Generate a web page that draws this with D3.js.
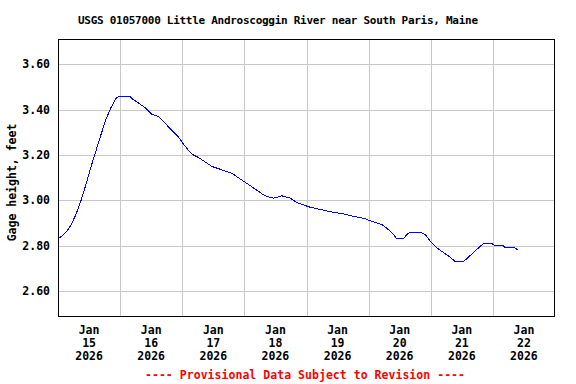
<!DOCTYPE html>
<html>
<head>
<meta charset="utf-8">
<script src="https://cdn.jsdelivr.net/npm/d3@7"></script>
<style>
  body { margin: 0; background: #fff; }
  text { font-family: "DejaVu Sans Mono", monospace; font-weight: bold; }
</style>
</head>
<body>
<div id="chart"></div>
<script>
// hours after Jan 15 2026 00:00 and gage height (ft)
const hours = [0, 1.2, 3.1, 5, 7, 8.9, 10.8, 12.8, 14.7, 16.6, 18.6, 20.5, 22.4, 23.7, 27.8,
  28.5, 31, 33.6, 36.2, 38.8, 41.4, 43.9, 46.5, 48.4, 50.4, 52.3, 54.2, 56.8, 59.4, 62,
  64.5, 67.1, 69.7, 72.3, 74.9, 77.4, 80, 83.2, 86.5, 89.7, 92.3, 94.8, 97.4, 101.3, 105.1,
  110.3, 114.1, 118.6, 120.6, 123.2, 125.7, 127.7, 129.6, 130.9, 133.5, 134.8, 136, 139.9,
  141.8, 143.8, 146.4, 148.9, 151.5, 153.4, 156.6, 158.6, 160.5, 162.4, 164.4, 167.6, 168.9,
  172.1, 172.8, 176.6, 177.9];
const gage = [2.83, 2.84, 2.86, 2.89, 2.94, 3.00, 3.07, 3.15, 3.22, 3.29, 3.36, 3.41, 3.45, 3.46, 3.46,
  3.45, 3.43, 3.41, 3.38, 3.37, 3.34, 3.31, 3.28, 3.25, 3.22, 3.20, 3.19, 3.17, 3.15, 3.14,
  3.13, 3.12, 3.10, 3.08, 3.06, 3.04, 3.02, 3.01, 3.02, 3.01, 2.99, 2.98, 2.97, 2.96, 2.95,
  2.94, 2.93, 2.92, 2.91, 2.90, 2.89, 2.87, 2.85, 2.83, 2.83, 2.85, 2.86, 2.86,
  2.85, 2.82, 2.79, 2.77, 2.75, 2.73, 2.73, 2.75, 2.77, 2.79, 2.81, 2.81, 2.80,
  2.80, 2.79, 2.79, 2.78];
const days = [15, 16, 17, 18, 19, 20, 21, 22];
const yTicks = [2.60, 2.80, 3.00, 3.20, 3.40, 3.60];

const width = 576, height = 384;
const margin = {top: 39, right: 21, bottom: 68, left: 58};

const start = new Date(2026, 0, 15);
const data = hours.map((h, i) => ({t: new Date(+start + h * 3600e3), v: gage[i]}));

const svg = d3.select("#chart").append("svg")
    .attr("width", width)
    .attr("height", height);

const x = d3.scaleTime()
    .domain([start, new Date(2026, 0, 23)])
    .range([margin.left, width - margin.right]);

const y = d3.scaleLinear()
    .domain([2.49, 3.712])
    .range([height - margin.bottom, margin.top]);

// grid
svg.append("g")
    .selectAll("line")
    .data(days.slice(1))
    .join("line")
    .attr("x1", d => Math.round(x(new Date(2026, 0, d))) + 0.5)
    .attr("x2", d => Math.round(x(new Date(2026, 0, d))) + 0.5)
    .attr("y1", margin.top)
    .attr("y2", height - margin.bottom)
    .attr("stroke", "#c8c8c8");

svg.append("g")
    .selectAll("line")
    .data(yTicks)
    .join("line")
    .attr("x1", margin.left)
    .attr("x2", width - margin.right)
    .attr("y1", d => Math.round(y(d)) + 0.5)
    .attr("y2", d => Math.round(y(d)) + 0.5)
    .attr("stroke", "#c8c8c8");

// y labels
svg.append("g")
    .selectAll("text")
    .data(yTicks)
    .join("text")
    .attr("x", 50)
    .attr("y", d => y(d) + 4)
    .attr("text-anchor", "end")
    .attr("font-size", 11.5)
    .text(d4 => d3.format(".2f")(d4));

// x labels, centered on each day
const xl = svg.append("g")
    .selectAll("text")
    .data(days)
    .join("text")
    .attr("text-anchor", "middle")
    .attr("font-size", 11.5)
    .attr("transform", d => `translate(${x(new Date(2026, 0, d, 12))},0)`);
xl.append("tspan").attr("x", 0).attr("y", 334).text("Jan");
xl.append("tspan").attr("x", 0).attr("y", 347).text(d => d);
xl.append("tspan").attr("x", 0).attr("y", 360).text("2026");

// data line
svg.append("path")
    .datum(data)
    .attr("fill", "none")
    .attr("stroke", "#0000ff")
    .attr("stroke-width", 1)
    .attr("shape-rendering", "crispEdges")
    .attr("d", d3.line().x(d => x(d.t)).y(d => y(d.v)));

// frame
svg.append("rect")
    .attr("x", margin.left + 0.5)
    .attr("y", margin.top + 0.5)
    .attr("width", width - margin.left - margin.right - 1)
    .attr("height", height - margin.top - margin.bottom)
    .attr("fill", "none")
    .attr("stroke", "#000");

// titles
svg.append("text")
    .attr("x", 78)
    .attr("y", 24)
    .attr("font-size", 11)
    .attr("textLength", 400)
    .text("USGS 01057000 Little Androscoggin River near South Paris, Maine");

svg.append("text")
    .attr("transform", `translate(16,${(margin.top + height - margin.bottom) / 2 + 5}) rotate(-90)`)
    .attr("text-anchor", "middle")
    .attr("font-size", 11.5)
    .text("Gage height, feet");

svg.append("text")
    .attr("x", 145)
    .attr("y", 379)
    .attr("font-size", 11.5)
    .attr("fill", "#ff0000")
    .attr("textLength", 320)
    .text("---- Provisional Data Subject to Revision ----");
</script>
</body>
</html>
